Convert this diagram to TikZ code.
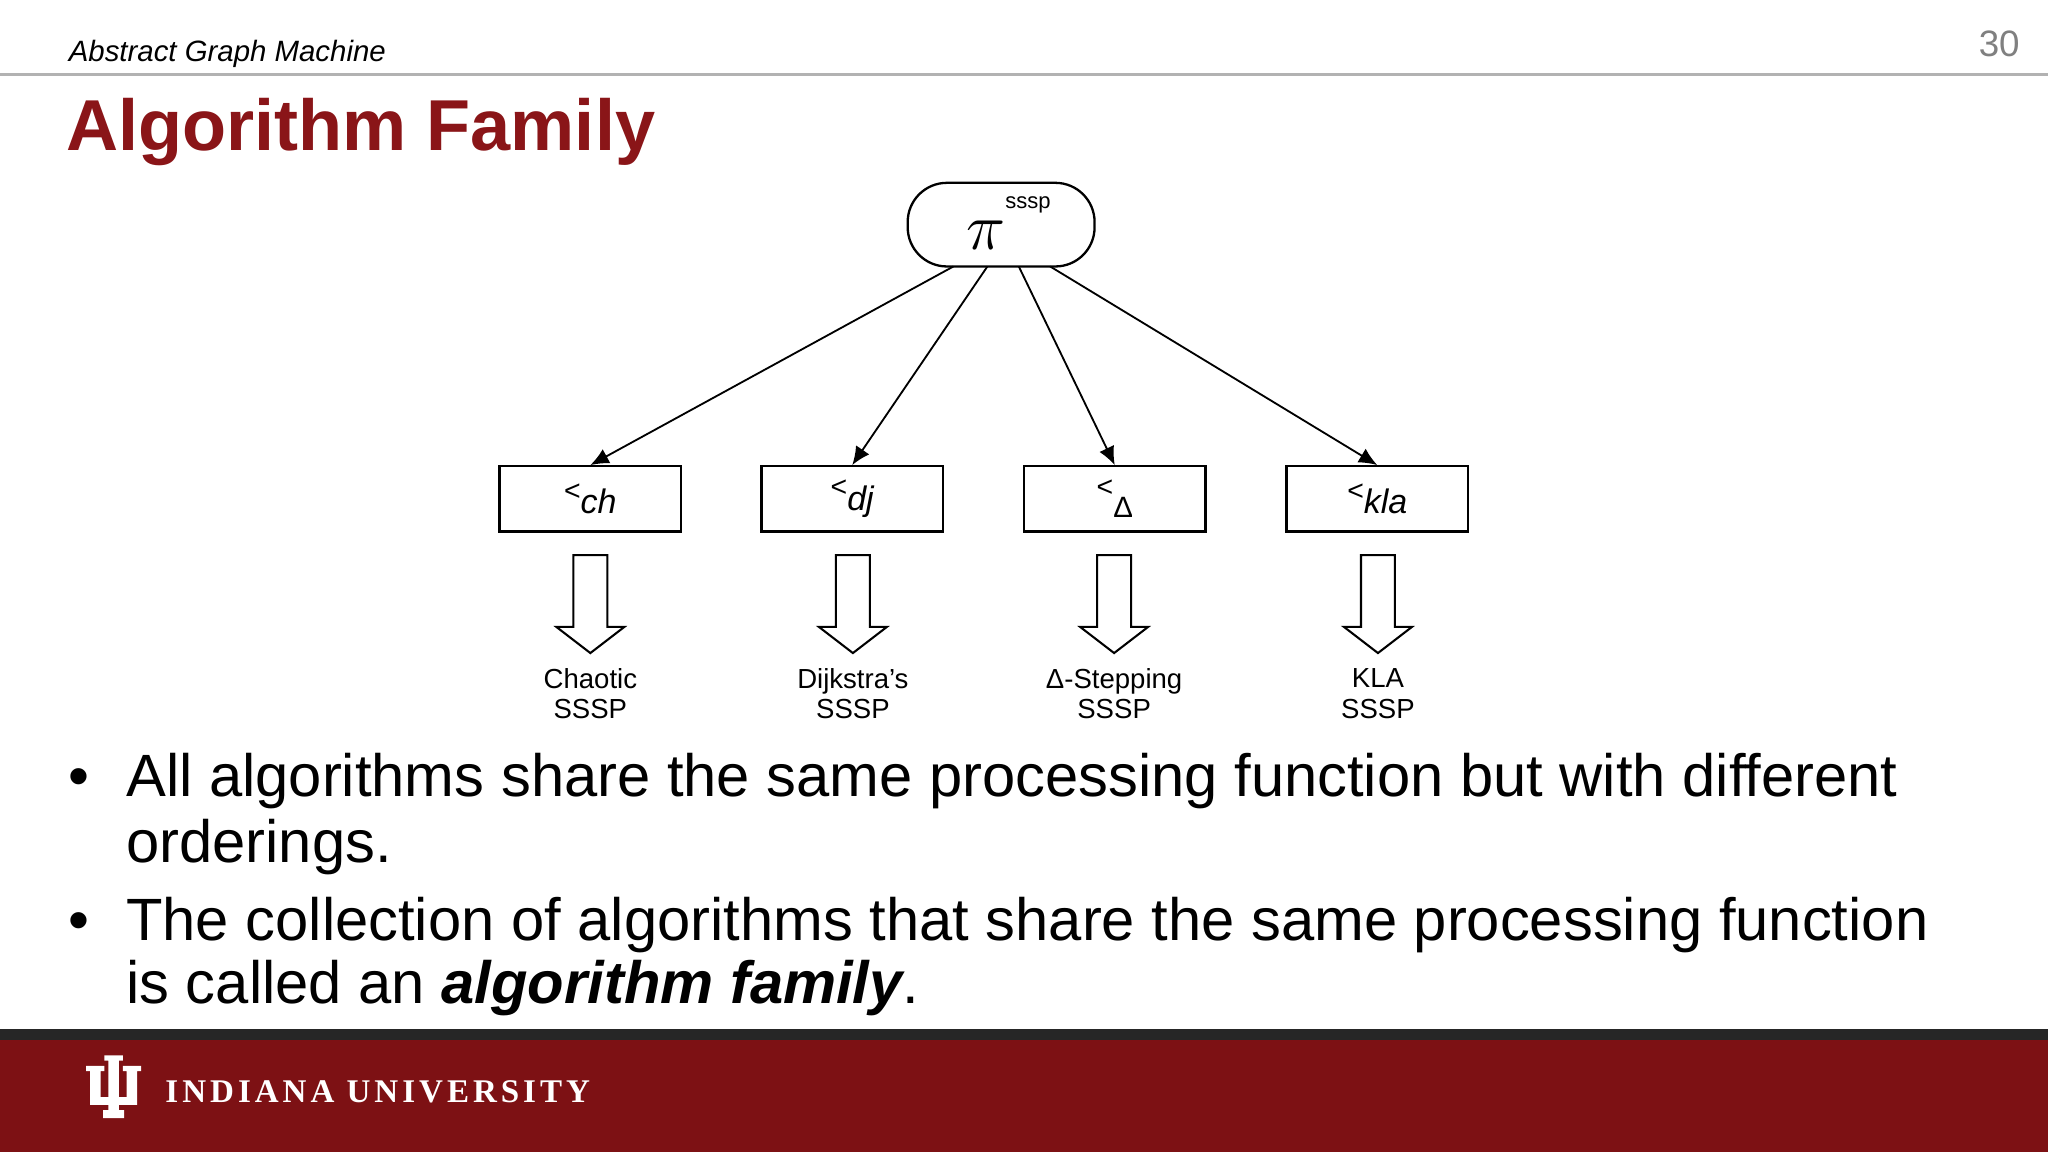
\documentclass[tikz,border=0pt]{standalone}
\usepackage{fontspec}
\setmainfont{Liberation Sans}
\newfontfamily\serifbf[LetterSpace=12]{Liberation Serif}
\usetikzlibrary{arrows.meta}
\definecolor{iured}{HTML}{7D1114}
\definecolor{titlered}{HTML}{8A1518}
\tikzset{
  ordbox/.style={draw,line width=0.5pt,minimum width=1.39cm,minimum height=0.5cm,inner sep=0pt},
  conn/.style={line width=0.4pt,-{Latex[length=4pt,width=3.5pt]}},
  hollow/.style={draw,line width=0.45pt,fill=white},
  lbl/.style={font=\fontsize{6}{6.6}\selectfont,align=center,inner sep=0pt},
  bul/.style={anchor=base west,inner sep=0pt,font=\fontsize{13}{14}\selectfont}
}
\newcommand{\ordlab}[1]{\raisebox{3pt}{\fontsize{6.2}{6.2}\selectfont<}{\fontsize{7.4}{7.4}\selectfont\itshape #1}}
\begin{document}
\begin{tikzpicture}[x=0.01cm,y=-0.01cm]
\useasboundingbox (0,0) rectangle (1568,882);
\fill[white] (0,0) rectangle (1568,882);
% header
\draw[gray!60,line width=0.5pt] (0,57) -- (1568,57);
\node[anchor=base west,inner sep=0pt,font=\fontsize{6.4}{7}\selectfont\itshape] (hdr) at (52,47) {Abstract Graph Machine};
\node[anchor=base east,inner sep=0pt,text=gray,font=\fontsize{8}{8}\selectfont] (pg) at (1547,43) {30};
\node[anchor=base west,inner sep=0pt,text=titlered,font=\fontsize{15.7}{16}\selectfont\bfseries] (title) at (50,115) {Algorithm Family};
% top node
\node[draw,line width=0.5pt,rounded corners=0.3cm,minimum width=1.43cm,minimum height=0.64cm,inner sep=0pt] (top) at (766.5,172) {};
\node[inner sep=0pt,font=\fontsize{15}{15}\selectfont] (pi) at (755,180) {$\pi$};
\node[inner sep=0pt,font=\fontsize{4.8}{5}\selectfont] (sssp) at (787,157) {sssp};
% boxes
\node[ordbox] (b1) at (452,382) {\ordlab{ch}};
\node[ordbox] (b2) at (652.5,382) {\ordlab{dj}};
\node[ordbox] (b3) at (853.5,382) {\raisebox{3pt}{\fontsize{6.2}{6.2}\selectfont<}\raisebox{-1.5pt}{\fontsize{6.4}{6.4}\selectfont Δ}};
\node[ordbox] (b4) at (1054.5,382) {\ordlab{kla}};
\coordinate (s1) at (730,204); \coordinate (s2) at (756,204);
\coordinate (s3) at (780,204); \coordinate (s4) at (804,204);
\draw[conn] (s1) -- (b1.north);
\draw[conn] (s2) -- (b2.north);
\draw[conn] (s3) -- (b3.north);
\draw[conn] (s4) -- (b4.north);
% hollow arrows and labels
\foreach \cx/\nm/\txt in {452/l1/{Chaotic\\SSSP},653/l2/{Dijkstra’s\\SSSP},853/l3/{Δ-Stepping\\SSSP},1055/l4/{KLA\\SSSP}}{
  \draw[hollow] (\cx-13,425) -- (\cx+13,425) -- (\cx+13,480) -- (\cx+26,480) -- (\cx,500) -- (\cx-26,480) -- (\cx-13,480) -- cycle;
  \node[lbl] (\nm) at (\cx,531) {\txt};
}
% bullets
\node[bul] (d1) at (52,610) {•};
\node[bul] (t1a) at (96,610) {All algorithms share the same processing function but with different};
\node[bul] (t1b) at (96,660) {orderings.};
\node[bul] (d2) at (52,720) {•};
\node[bul] (t2a) at (96,720) {The collection of algorithms that share the same processing function};
\node[bul] (t2b) at (96,768) {is called an \textbf{\itshape algorithm family}.};
% footer
\fill[black!85] (0,788) rectangle (1568,796);
\fill[iured] (0,796) rectangle (1568,882);
\fill[white] (66,816) -- (80,816) -- (80,820) -- (77,820) -- (77,840) -- (83,840) -- (83,812) -- (80,812) -- (80,808) -- (94,808) -- (94,812) -- (91,812) -- (91,840) -- (97,840) -- (97,820) -- (94,820) -- (94,816) -- (108,816) -- (108,820) -- (105,820) -- (105,846) -- (91,846) -- (91,850) -- (95,850) -- (95,856) -- (79,856) -- (79,850) -- (83,850) -- (83,846) -- (69,846) -- (69,820) -- (66,820) -- cycle;
\node[anchor=west,inner sep=0pt,text=white,font=\fontsize{7.2}{8}\serifbf\bfseries] (iu) at (126,836) {INDIANA UNIVERSITY};
\end{tikzpicture}
\end{document}
